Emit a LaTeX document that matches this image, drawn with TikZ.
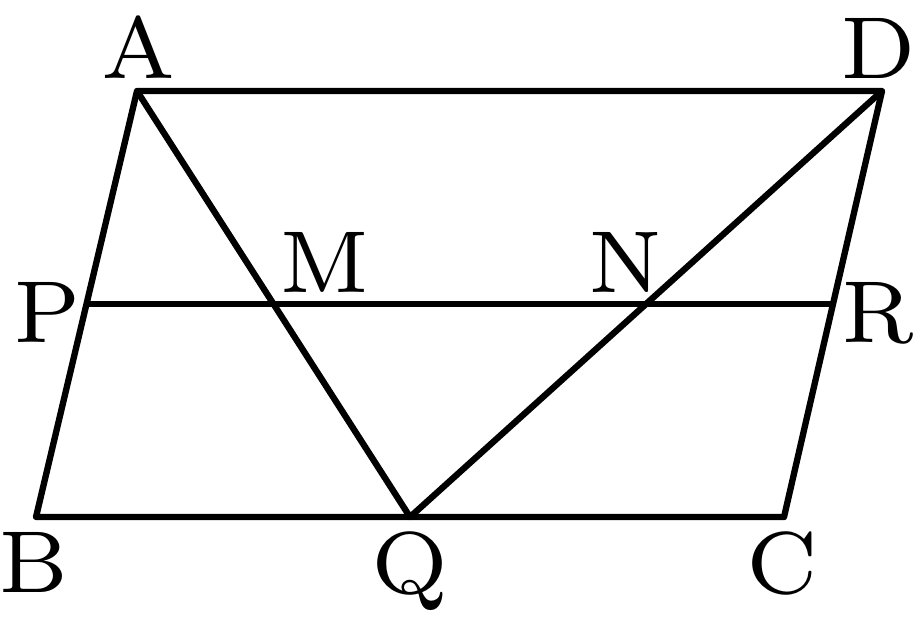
\documentclass[tikz,border=0pt]{standalone}
\usepackage{tikz}
\usetikzlibrary{positioning,calc}
\font\lblfont=cmr7 at 25pt

\begin{document}
\begin{tikzpicture}[x=0.01cm, y=-0.01cm, line width=1.8pt, line join=round,
    lbl/.style={inner sep=0pt, anchor=base, font=\lblfont}]
            \useasboundingbox (0,0) rectangle (913,626);
            % Draw the parallelogram
            \coordinate (A) at (137,91);
            \coordinate (D) at (882,91);
            \coordinate (B) at (36,517);
            \coordinate (C) at (784,517);
            \draw (A) -- (D) -- (C) -- (B) -- cycle;

            % Midpoints
            \coordinate (P) at ($(A)!0.5!(B)$);
            \coordinate (R) at ($(D)!0.5!(C)$);
            \coordinate (Q) at ($(B)!0.5!(C)$);
            \coordinate (M) at ($(A)!0.5!(Q)$);
            \coordinate (N) at ($(D)!0.5!(Q)$);
            \draw (P) -- (R);
            \draw (A) -- (Q) -- (D);

            % Labels
            \node[lbl] (lA) at (139,78) {A};
            \node[lbl] (lD) at (878,78) {D};
            \node[lbl] (lM) at (325,292) {M};
            \node[lbl] (lN) at (626,292) {N};
            \node[lbl] (lP) at (47,342) {P};
            \node[lbl] (lR) at (878,342) {R};
            \node[lbl] (lB) at (34,592) {B};
            \node[lbl] (lQ) at (410,593) {Q};
            \node[lbl] (lC) at (782,593) {C};
        \end{tikzpicture}
\end{document}
